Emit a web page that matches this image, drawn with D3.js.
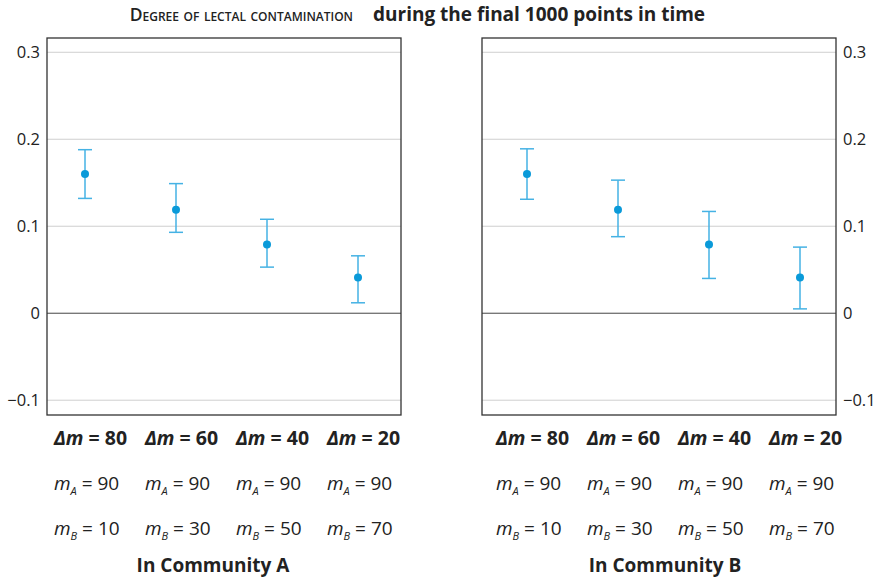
<!DOCTYPE html>
<html>
<head>
<meta charset="utf-8">
<script src="https://cdn.jsdelivr.net/npm/d3@7/dist/d3.min.js"></script>
<style>
  body { margin: 0; background: #fff; }
  svg { font-family: "Open Sans", sans-serif; }
</style>
</head>
<body>
<svg id="chart" width="882" height="577"></svg>
<script>
// data
const deltaM = [80, 60, 40, 20];
const mA = [90, 90, 90, 90];
const mB = [10, 30, 50, 70];

const meanA = [0.160, 0.119, 0.079, 0.041];
const lowA  = [0.132, 0.093, 0.053, 0.012];
const highA = [0.188, 0.149, 0.108, 0.066];

const meanB = [0.160, 0.119, 0.079, 0.041];
const lowB  = [0.131, 0.088, 0.040, 0.005];
const highB = [0.189, 0.153, 0.117, 0.076];

const yTicks = [-0.1, 0, 0.1, 0.2, 0.3];

const svg = d3.select("#chart");
const plotTop = 38, plotBottom = 415, panelW = 354;

const panels = [
  { name: "In Community A", left: 47, shift: 0, titleX: 213, mean: meanA, low: lowA, high: highA, axis: "left" },
  { name: "In Community B", left: 482, shift: 7, titleX: 665, mean: meanB, low: lowB, high: highB, axis: "right" }
];

const y = d3.scaleLinear().domain([-0.117, 0.3164]).range([plotBottom, plotTop]);
const x = d3.scalePoint().domain(deltaM).range([38, 311]);

const fmt = d => d === 0 ? "0" : d3.format(".1f")(d);
const blueLine = "#45b2e4", blueDot = "#0a9ad9";

// title, in two pieces
svg.append("text")
    .attr("x", 353).attr("y", 21)
    .attr("text-anchor", "end")
    .style("fill", "#222")
    .style("font-variant", "small-caps")
    .style("font-size", "17.5px")
    .style("font-weight", 600)
    .text("Degree of lectal contamination");
svg.append("text")
    .attr("x", 373).attr("y", 21)
    .style("fill", "#222")
    .style("font-size", "19px")
    .style("font-weight", 700)
    .text("during the final 1000 points in time");

panels.forEach(function(p){
    let g = svg.append("g").attr("transform", "translate(" + p.left + ",0)");

    // gridlines
    g.selectAll(".grid")
        .data(yTicks)
        .enter().append("line")
        .attr("x1", 0).attr("x2", panelW)
        .attr("y1", d => y(d)).attr("y2", d => y(d))
        .style("stroke", d => d === 0 ? "#444" : "#cfcfcf")
        .style("stroke-width", 1);

    // frame
    g.append("rect")
        .attr("x", 0).attr("y", plotTop)
        .attr("width", panelW).attr("height", plotBottom - plotTop)
        .style("fill", "none")
        .style("stroke", "#333")
        .style("stroke-width", 1.3);

    // axis
    let axis = (p.axis == "left" ? d3.axisLeft(y) : d3.axisRight(y))
        .tickValues(yTicks).tickSize(0).tickPadding(7).tickFormat(fmt);
    let ag = g.append("g")
        .attr("transform", "translate(" + (p.axis == "left" ? 0 : panelW) + ",0)")
        .call(axis);
    ag.select(".domain").remove();
    ag.selectAll("text").style("font-size", "16.5px").style("fill", "#222").style("font-family", "Open Sans");

    let pts = deltaM.map((d, i) => ({ k: d, i: i, mean: p.mean[i], low: p.low[i], high: p.high[i] }));
    let node = g.selectAll(".pt")
        .data(pts)
        .enter().append("g")
        .attr("transform", d => "translate(" + (x(d.k) + p.shift) + ",0)");

    node.append("line")
        .attr("y1", d => y(d.low)).attr("y2", d => y(d.high))
        .style("stroke", blueLine).style("stroke-width", 1.5);
    node.selectAll(".cap")
        .data(d => [d.low, d.high])
        .enter().append("line")
        .attr("x1", -7).attr("x2", 7)
        .attr("y1", d => y(d)).attr("y2", d => y(d))
        .style("stroke", blueLine).style("stroke-width", 1.5);
    node.append("circle")
        .attr("cy", d => y(d.mean))
        .attr("r", 4)
        .style("fill", blueDot);

    // labels under panel
    let lab = node.append("g").attr("transform", "translate(-31,0)");
    let t1 = lab.append("text").attr("y", 445)
        .style("font-size", "19.5px").style("font-weight", 700).style("fill", "#222");
    t1.append("tspan").style("font-style", "italic").text("Δm");
    t1.append("tspan").text(d => " = " + d.k);

    let t2 = lab.append("text").attr("y", 490)
        .style("font-size", "19px").style("fill", "#222");
    t2.append("tspan").style("font-style", "italic").text("m");
    t2.append("tspan").attr("dy", 5).style("font-style", "italic").style("font-size", "11px").text("A");
    t2.append("tspan").attr("dy", -5).text(d => " = " + mA[d.i]);

    let t3 = lab.append("text").attr("y", 535)
        .style("font-size", "19px").style("fill", "#222");
    t3.append("tspan").style("font-style", "italic").text("m");
    t3.append("tspan").attr("dy", 5).style("font-style", "italic").style("font-size", "11px").text("B");
    t3.append("tspan").attr("dy", -5).text(d => " = " + mB[d.i]);

    svg.append("text")
        .attr("x", p.titleX).attr("y", 572)
        .attr("text-anchor", "middle")
        .style("font-size", "19px").style("font-weight", 700).style("fill", "#222")
        .text(p.name);
});
</script>
</body>
</html>
